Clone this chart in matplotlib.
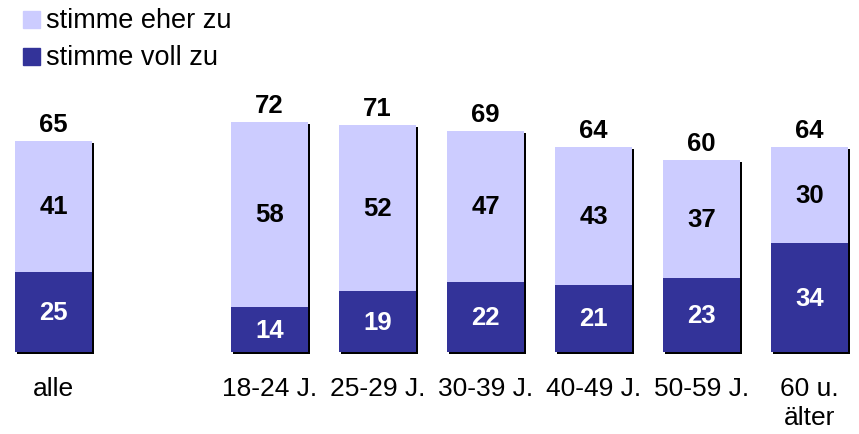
import matplotlib.pyplot as plt
from matplotlib.patches import Rectangle

plt.rcParams['font.family'] = ['Liberation Sans', 'DejaVu Sans']

### data ###
categories = ["alle", "18-24 J.", "25-29 J.", "30-39 J.", "40-49 J.", "50-59 J.", "60 u.\nälter"]
voll = [25, 14, 19, 22, 21, 23, 34]
eher = [41, 58, 52, 47, 43, 37, 30]
totals = [65, 72, 71, 69, 64, 60, 64]
positions = [0, 2, 3, 4, 5, 6, 7]

### colours ###
light = "#CCCCFF"
dark = "#333399"

W, H = 859, 435
slot = 108.0          # px per category slot
ppu = 3.2             # px per percentage point
x0px, y0px = 53.5, 353  # pixel of first bar centre / baseline

fig = plt.figure(figsize=(W / 100, H / 100), dpi=100)
ax = fig.add_axes([0, 0, 1, 1])
ax.set_xlim(-x0px / slot, (W - x0px) / slot)
ax.set_ylim(-(H - y0px) / ppu, y0px / ppu)
ax.axis("off")

bw = 77 / slot
dx = 2 / slot
dy = 2 / ppu

for p, v, e, t in zip(positions, voll, eher, totals):
    # shadow
    ax.bar(p + dx, v + e, bottom=-dy, width=bw, color="black", zorder=1)
    ax.bar(p, v, width=bw, color=dark, zorder=2)
    ax.bar(p, e, bottom=v, width=bw, color=light, zorder=2)
    ax.text(p, v / 2, str(v), ha="center", va="center", color="white",
            fontsize=18.5, fontweight="bold", zorder=3)
    ax.text(p, v + e / 2, str(e), ha="center", va="center", color="black",
            fontsize=18.5, fontweight="bold", zorder=3)
    ax.annotate(str(t), (p, v + e), xytext=(0, 5), textcoords="offset pixels",
                ha="center", va="bottom", fontsize=18.5, fontweight="bold")

for p, c in zip(positions, categories):
    ax.text(p, -24 / ppu, c, ha="center", va="top", fontsize=19,
            linespacing=1.25)

# legend
def px(x, y):
    return x / W, 1 - y / H

for (y, col, lab) in [(12, light, "stimme eher zu"), (49, dark, "stimme voll zu")]:
    fig.patches.append(Rectangle(px(23, y + 17), 17 / W, 17 / H, color=col,
                                 transform=fig.transFigure))
    fig.text(*px(46, y + 16), lab, ha="left", va="baseline", fontsize=19.5)

fig.savefig("out.png", dpi=100)
